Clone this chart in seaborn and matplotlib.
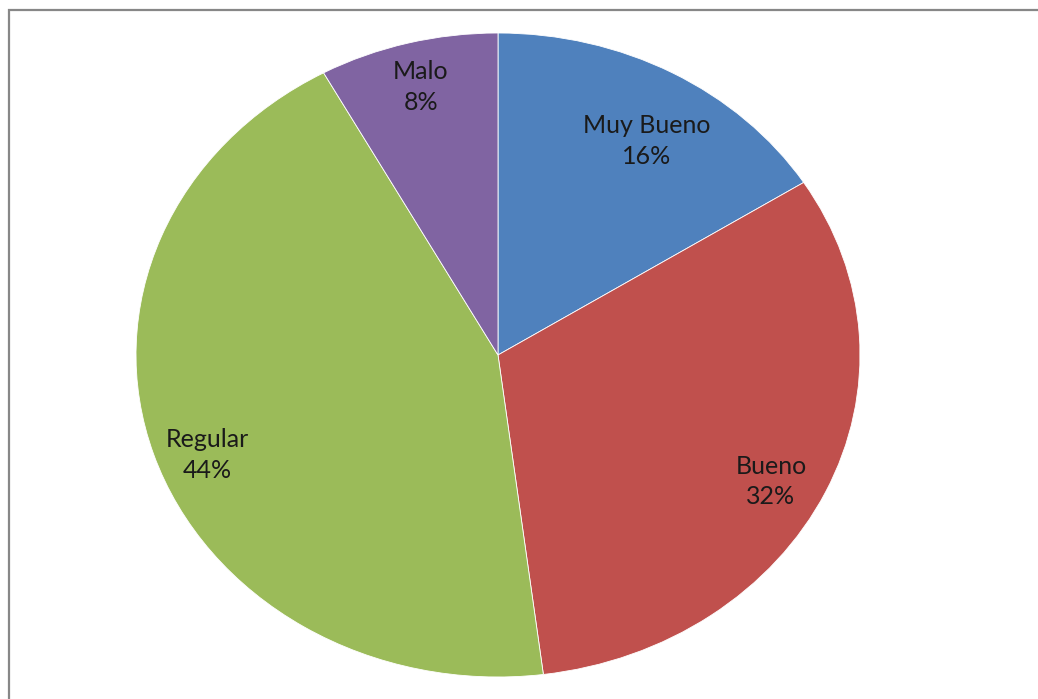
import matplotlib
matplotlib.use("Agg")
import matplotlib.pyplot as plt
from matplotlib.patches import Rectangle
import numpy as np
import seaborn as sns

# Survey rating distribution (percent)
categories = ["Muy Bueno", "Bueno", "Regular", "Malo"]
values = [16, 32, 44, 8]
colors = ["#4F81BD", "#C0504D", "#9BBB59", "#8064A2"]
# label placement: fraction across each slice's arc, and radial distance
label_frac = [0.55, 0.52, 0.48, 0.50]
label_dist = [0.78, 0.85, 0.86, 0.86]

sns.set_theme(style="white")
plt.rcParams["font.family"] = ["Lato", "DejaVu Sans"]

W, H = 1038, 699
fig = plt.figure(figsize=(W / 100, H / 100), dpi=100)
fig.patch.set_facecolor("white")

# Outer chart frame (runs off the right and bottom edges)
fig.add_artist(Rectangle((9 / W, -0.05), 1.2, (H - 10) / H + 0.05,
                         transform=fig.transFigure, fill=False,
                         edgecolor="#878787", linewidth=1.6))

# Plot area sized so the pie is drawn as a slightly wide ellipse
ax = fig.add_axes([136 / W, (H - 677) / H, 724 / W, 644 / H])
wedges, _ = ax.pie(values, colors=colors, startangle=90, counterclock=False,
                   radius=1.0, wedgeprops=dict(edgecolor="white", linewidth=0.6))
ax.set_aspect("auto")
ax.set_xlim(-1, 1)
ax.set_ylim(-1, 1)
ax.axis("off")

total = sum(values)
cum = 0
for cat, v, f, d in zip(categories, values, label_frac, label_dist):
    ang = (cum + v * f) / total * 2 * np.pi
    cum += v
    ax.text(d * np.sin(ang), d * np.cos(ang), f"{cat}\n{v}%",
            ha="center", va="center", fontsize=18, color="#1a1a1a",
            linespacing=1.4)

fig.savefig("out.png", dpi=100)
